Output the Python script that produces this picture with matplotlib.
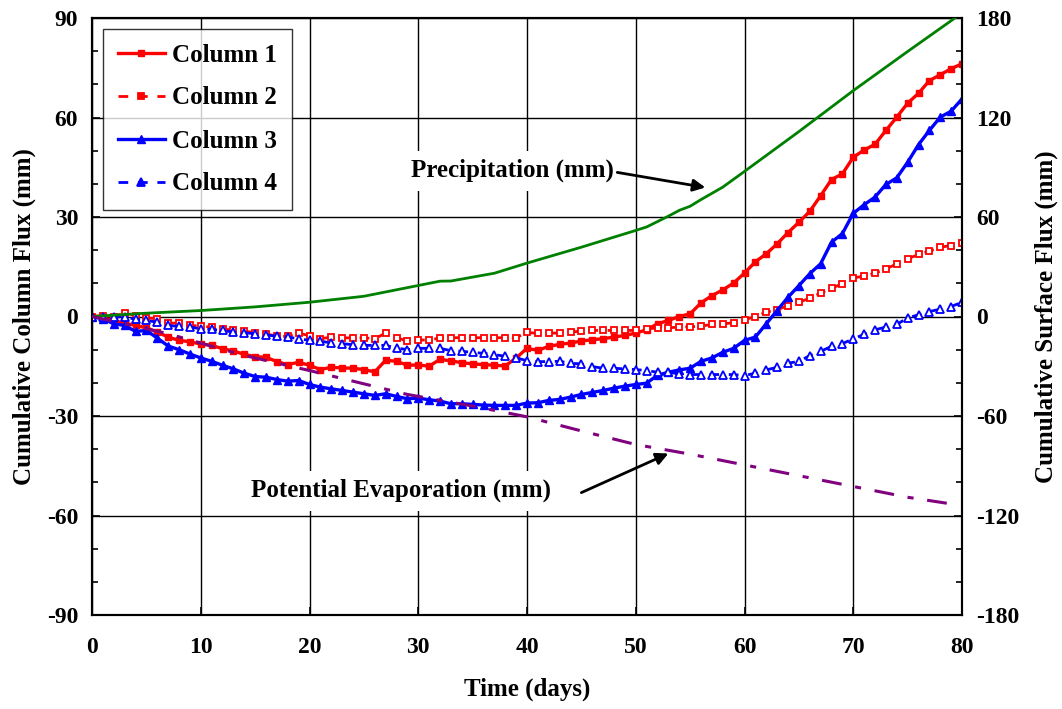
import matplotlib
matplotlib.use("Agg")
import matplotlib.pyplot as plt
from matplotlib.ticker import MultipleLocator

days = list(range(0, 81))

col1 = [0, -0.4, -1.2, -2.0, -2.7, -3.4, -4.7, -6.2, -7.2, -7.6,
        -8.3, -8.7, -9.7, -10.4, -11.4, -12.1, -12.3, -13.6, -14.5, -13.8,
        -14.7, -16.0, -15.3, -15.5, -15.6, -16.0, -16.7, -13.2, -13.5, -14.7,
        -14.6, -15.0, -12.9, -13.4, -13.9, -14.3, -14.5, -14.7, -14.9, -12.5,
        -9.6, -10.2, -9.0, -8.4, -8.0, -7.4, -7.0, -6.7, -6.2, -5.7,
        -5.0, -4.0, -2.2, -1.2, 0.0, 0.8, 4.1, 6.3, 8.0, 10.1,
        13.1, 16.5, 18.9, 21.9, 25.3, 28.4, 31.7, 36.4, 41.3, 43.0,
        48.0, 50.2, 51.9, 56.1, 60.1, 64.3, 67.3, 71.1, 72.9, 74.7, 76.2]

col2 = [0, 0.3, 0.0, 1.1, 0.3, -0.4, -0.7, -2.0, -2.0, -2.7,
        -2.9, -3.2, -3.9, -4.0, -4.4, -4.9, -5.2, -6.0, -6.0, -5.0,
        -5.8, -6.7, -6.2, -6.4, -6.5, -6.4, -6.7, -5.0, -6.4, -7.4,
        -7.0, -7.2, -6.4, -6.4, -6.4, -6.4, -6.4, -6.4, -6.4, -6.4,
        -4.8, -5.1, -5.0, -5.0, -4.7, -4.4, -4.2, -4.2, -4.2, -4.2,
        -4.2, -3.8, -3.4, -3.4, -3.2, -3.1, -2.9, -2.4, -2.2, -1.9,
        -1.0, 0.0, 1.3, 2.0, 3.3, 4.3, 5.5, 7.1, 8.5, 9.9,
        11.7, 12.1, 13.1, 14.3, 15.9, 17.4, 18.7, 19.7, 20.9, 21.4, 22.1]

col3 = [0, -0.7, -2.2, -2.7, -4.5, -4.2, -6.5, -8.9, -10.0, -11.3,
        -12.5, -13.5, -14.7, -15.8, -17.1, -18.1, -18.3, -19.0, -19.5, -19.3,
        -20.5, -21.3, -21.8, -22.3, -22.8, -23.3, -23.8, -23.3, -24.1, -24.8,
        -24.6, -25.1, -25.5, -26.3, -26.3, -26.5, -26.7, -26.8, -26.8, -26.8,
        -26.1, -26.0, -25.3, -25.0, -24.3, -23.5, -22.9, -22.3, -21.6, -21.0,
        -20.5, -20.1, -17.7, -16.8, -16.1, -15.6, -13.5, -12.5, -10.8, -9.6,
        -7.2, -6.2, -2.2, 1.8, 5.8, 9.3, 12.9, 15.9, 22.4, 25.0,
        31.1, 33.7, 36.0, 39.8, 41.8, 46.5, 51.8, 56.1, 60.1, 61.9, 65.6]

col4 = [0, 0, -0.2, 0, -0.9, -1.2, -1.7, -2.7, -3.0, -3.2,
        -3.7, -3.9, -4.2, -4.7, -4.9, -5.2, -5.5, -6.0, -6.2, -6.7,
        -7.2, -7.4, -8.0, -8.2, -8.5, -8.7, -8.7, -8.7, -9.5, -10.0,
        -9.6, -9.6, -9.6, -10.3, -10.5, -10.8, -11.1, -11.5, -12.0, -12.5,
        -13.3, -13.6, -13.6, -13.5, -14.1, -14.3, -15.1, -15.6, -15.6, -15.8,
        -16.0, -16.3, -16.8, -16.8, -17.3, -17.5, -17.5, -17.5, -17.5, -17.5,
        -17.8, -17.1, -16.1, -15.3, -14.1, -13.5, -11.8, -10.5, -9.0, -8.2,
        -6.7, -5.4, -4.0, -3.2, -2.4, -0.4, 0.5, 1.5, 2.2, 3.0, 4.3]

precip_days = [0, 5, 10, 15, 20, 25, 30, 32, 33, 37, 40, 45, 50, 51, 53, 54,
               55, 56, 58, 60, 65, 70, 75, 80]
precip = [0, 2.0, 3.6, 5.8, 8.6, 12.2, 18.7, 21.3, 21.4, 26.1, 32.2, 41.8,
          51.9, 54.0, 60.5, 64.0, 66.5, 70.5, 78.0, 87.5, 111.5, 136.2,
          159.8, 183.0]

evap_days = [0, 7, 14, 20, 26, 29, 32, 35, 40, 45, 50, 55, 60, 65, 70, 75, 79]
evap = [0, -10.4, -23.5, -32.6, -42.2, -47.0, -50.5, -54.0, -60.5, -69.0,
        -77.2, -83.0, -89.5, -96.0, -102.5, -109.0, -113.0]

series_labels = ["Column 1", "Column 2", "Column 3", "Column 4"]

plt.rcParams['font.family'] = ['Liberation Serif', 'DejaVu Serif']
plt.rcParams['font.weight'] = 'bold'
plt.rcParams['axes.unicode_minus'] = False

fig = plt.figure(figsize=(10.62, 7.09), dpi=100)
ax = fig.add_axes([92 / 1062, 1 - 615 / 709, 870 / 1062, 597 / 709])
ax2 = ax.twinx()

ax.set_xlim(0, 80)
ax.set_ylim(-90, 90)
ax2.set_ylim(-180, 180)

ax.xaxis.set_major_locator(MultipleLocator(10))
ax.yaxis.set_major_locator(MultipleLocator(30))
ax.yaxis.set_minor_locator(MultipleLocator(10))
ax2.yaxis.set_major_locator(MultipleLocator(60))
ax2.yaxis.set_minor_locator(MultipleLocator(20))

ax.grid(True, which='major', color='black', linewidth=1.0, zorder=0)
ax.set_axisbelow(True)

red = '#ff0000'
blue = '#0000ff'
ax.plot(days, col1, color=red, lw=2.4, marker='s', ms=5, mfc=red, mec=red,
        label=series_labels[0], zorder=4)
ax.plot(days, col2, color=red, lw=2.0, ls=(0, (3.5, 3.5)), marker='s', ms=5,
        mfc='white', mec=red, mew=1.3, label=series_labels[1], zorder=4)
ax.plot(days, col3, color=blue, lw=2.4, marker='^', ms=5.5, mfc=blue, mec=blue,
        label=series_labels[2], zorder=4)
ax.plot(days, col4, color=blue, lw=2.0, ls=(0, (3.5, 3.5)), marker='^', ms=5.5,
        mfc='white', mec=blue, mew=1.3, label=series_labels[3], zorder=4)

ax2.plot(precip_days, precip, color='#008000', lw=2.0, zorder=3)
ax2.plot(evap_days, evap, color='#800080', lw=2.2,
         ls=(0, (6.5, 4.5, 2.0, 4.5)), zorder=3)

for a in (ax, ax2):
    a.tick_params(which='both', direction='in', labelsize=17)
    a.tick_params(which='major', length=6, width=1.2)
    a.tick_params(which='minor', length=4, width=1.2)
    for s in a.spines.values():
        s.set_linewidth(1.5)
ax.tick_params(axis='x', pad=16)
ax.tick_params(axis='y', pad=10)
ax2.tick_params(axis='y', pad=10)
for lab in ax.get_xticklabels() + ax.get_yticklabels() + ax2.get_yticklabels():
    lab.set_fontweight('bold')

ax.set_xlabel("Time (days)", fontsize=18, fontweight='bold')
ax.set_ylabel("Cumulative Column Flux (mm)", fontsize=18, fontweight='bold')
ax2.set_ylabel("Cumulative Surface Flux (mm)", fontsize=18, fontweight='bold',
               rotation=90)
ax.xaxis.set_label_coords(0.5, (615 - 678) / 597)
ax.yaxis.set_label_coords((36 - 92) / 870, 0.5)
ax2.yaxis.set_label_coords((1035 - 92) / 870, 0.5)

leg = ax.legend(loc='upper left', bbox_to_anchor=(11 / 870, 1 - 11 / 597),
                borderaxespad=0, frameon=True, fancybox=False, borderpad=0.58,
                labelspacing=0.8, handlelength=1.9, handletextpad=0.3,
                prop={'weight': 'bold', 'size': 18})
leg.get_frame().set_edgecolor('black')
leg.get_frame().set_linewidth(1.0)
leg.set_zorder(10)
for h, c in zip(leg.legend_handles, [red, red, blue, blue]):
    h.set_markerfacecolor(c)

bbox = dict(facecolor='white', edgecolor='none', pad=6)
ax2.text(38.7, 88, "Precipitation (mm)", fontsize=18, fontweight='bold',
         ha='center', va='center', bbox=bbox, zorder=6)
ax2.text(28.4, -105, "Potential Evaporation (mm)", fontsize=18,
         fontweight='bold', ha='center', va='center', bbox=bbox, zorder=6)
arrow = dict(arrowstyle='-|>', color='black', lw=2, mutation_scale=18,
             shrinkA=0, shrinkB=0)
ax2.annotate("", xy=(56.4, 77.8), xytext=(48.3, 86.9), arrowprops=arrow,
             zorder=7)
ax2.annotate("", xy=(53.0, -82.6), xytext=(45.0, -106.2), arrowprops=arrow,
             zorder=7)

fig.savefig("out.png", dpi=100)
